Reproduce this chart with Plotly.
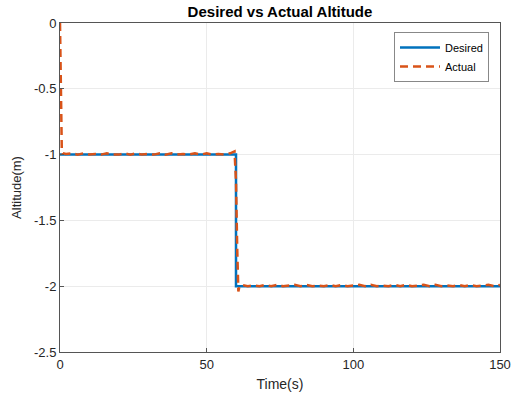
import plotly.graph_objects as go

# Desired altitude (step profile)
t_desired = [0, 60, 60, 150]
alt_desired = [-1.0, -1.0, -2.0, -2.0]

# Actual altitude
t_actual = [0, 0.3, 0.6, 1.0, 2.0, 4.0, 6.0, 8.0, 10.0, 12.0, 14.0, 16.0, 18.0, 20.0,
            22.0, 24.0, 26.0, 28.0, 30.0, 32.0, 34.0, 36.0, 38.0, 40.0, 42.0, 44.0,
            46.0, 48.0, 50.0, 52.0, 54.0, 56.0, 58.0, 59.5, 60.0, 60.4, 60.8, 61.2,
            62.0, 64.0, 66.0, 68.0, 70.0, 72.0, 74.0, 76.0, 78.0, 80.0, 82.0, 84.0,
            86.0, 88.0, 90.0, 92.0, 94.0, 96.0, 98.0, 100.0, 102.0, 104.0, 106.0,
            108.0, 110.0, 112.0, 114.0, 116.0, 118.0, 120.0, 122.0, 124.0, 126.0,
            128.0, 130.0, 132.0, 134.0, 136.0, 138.0, 140.0, 142.0, 144.0, 146.0,
            148.0, 150.0]
alt_actual = [0.0, -0.5, -0.95, -0.99, -0.995, -0.99, -1.0, -0.99, -1.0, -0.995, -1.0,
              -0.99, -1.0, -1.0, -0.99, -1.0, -0.99, -1.0, -0.995, -1.0, -0.99, -1.0,
              -0.99, -1.0, -0.995, -1.0, -0.99, -1.0, -0.99, -1.0, -0.995, -1.0, -0.99,
              -0.975, -1.2, -1.7, -2.04, -2.0, -1.99, -2.0, -1.995, -2.0, -1.99, -2.0,
              -1.99, -2.0, -1.995, -1.99, -2.0, -1.99, -2.0, -1.995, -2.0, -1.99, -2.0,
              -1.99, -2.0, -1.995, -1.99, -2.0, -1.99, -2.0, -1.995, -2.0, -1.99, -2.0,
              -1.99, -2.0, -1.995, -1.99, -2.0, -1.99, -2.0, -1.995, -2.0, -1.99, -2.0,
              -1.99, -2.0, -1.995, -1.99, -2.0, -1.99]

x_ticks = [0, 50, 100, 150]
y_ticks = [0, -0.5, -1, -1.5, -2, -2.5]
y_tick_labels = ["0", "-0.5", "-1", "-1.5", "-2", "-2.5"]

fig = go.Figure()
fig.add_trace(go.Scatter(x=t_desired, y=alt_desired, mode="lines", name="Desired",
                         line=dict(color="#0072BD", width=2.5)))
fig.add_trace(go.Scatter(x=t_actual, y=alt_actual, mode="lines", name="Actual",
                         line=dict(color="#D95319", width=2.5, dash="8px,5px")))

W, H = 511, 394
font = "Liberation Sans, Arial, sans-serif"
fig.update_layout(
    width=W, height=H,
    margin=dict(l=60, r=11, t=23, b=42),
    paper_bgcolor="white", plot_bgcolor="white",
    font=dict(family=font, size=13, color="#262626"),
    title=dict(text="<b>Desired vs Actual Altitude</b>", x=280 / W, xanchor="center",
               y=1 - 12 / H, yanchor="middle", font=dict(size=15, color="black")),
    legend=dict(x=0.975, y=0.973, xanchor="right", yanchor="top",
                bordercolor="#888", borderwidth=1, bgcolor="white",
                font=dict(size=11, color="black"), tracegroupgap=0,
                itemwidth=40),
    showlegend=True,
)
fig.update_xaxes(range=[0, 150], tickvals=x_ticks, ticks="inside", ticklen=4,
                 tickcolor="#555", showgrid=True, gridcolor="#ebebeb",
                 showline=True, linecolor="#555", mirror=True, zeroline=False,
                 automargin=False,
                 title=dict(text="Time(s)", standoff=8, font=dict(size=14)),
                 tickfont=dict(size=13))
fig.update_yaxes(range=[-2.5, 0], tickvals=y_ticks, ticktext=y_tick_labels,
                 ticks="inside", ticklen=4, tickcolor="#555",
                 showgrid=True, gridcolor="#ebebeb",
                 showline=True, linecolor="#555", mirror=True, zeroline=False,
                 automargin=False,
                 title=dict(text="Altitude(m)", standoff=9, font=dict(size=13)),
                 tickfont=dict(size=13))

fig.write_html("out.html",
               config={"displayModeBar": False},
               post_script="document.body.style.margin='0';document.body.style.overflow='hidden';")
